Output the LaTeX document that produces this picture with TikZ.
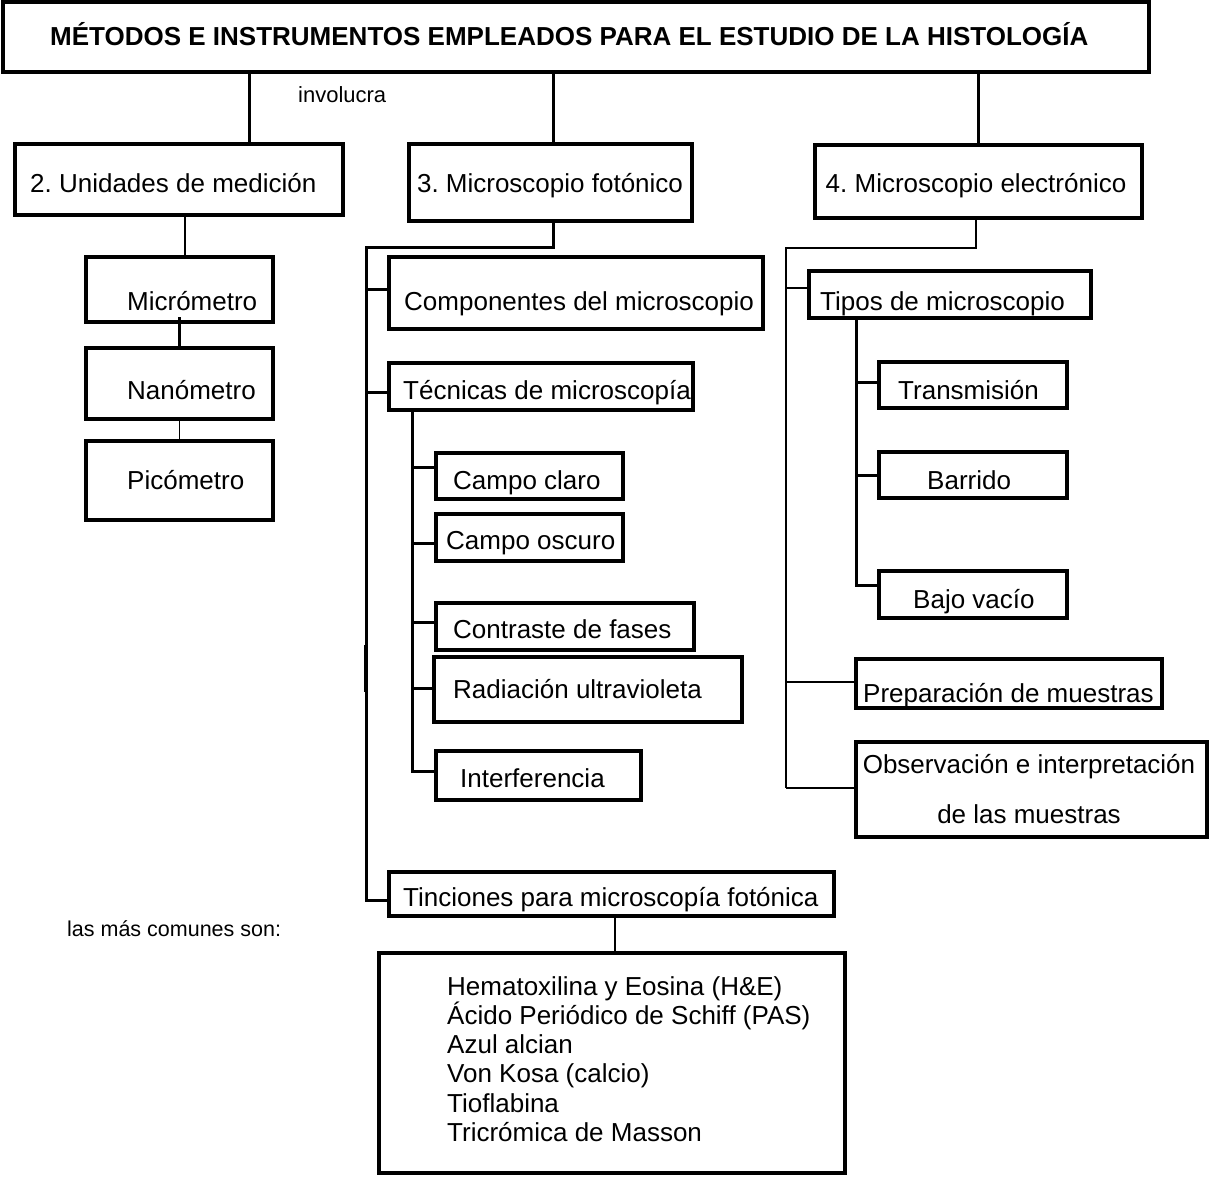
\documentclass[tikz,border=0pt]{standalone}
\usepackage{fontspec}
\setmainfont{Liberation Sans}
% box from its two corners (x1,y1) (x2,y2): [options]{x1}{y1}{x2}{y2}{name}
\newcommand{\mkbox}[6][]{%
  \node[box,#1,minimum width={#4-#2},minimum height={#5-#3}] (#6)
    at ({(#2+#4)/2},{(#3+#5)/2}) {};}
% horizontal twig from a trunk to the west side of a box: [style]{trunk}{box}{yshift}
\newcommand{\twig}[4][]{%
  \path ([yshift=#4pt]#3.west) coordinate (tw-#3);
  \draw[#1] (tw-#3 -| #2) -- (tw-#3);}
\begin{document}
\frenchspacing
\begin{tikzpicture}[x=1pt,y=-1pt,
  box/.style={draw,line width=3.5pt,inner sep=0pt,outer sep=0pt},
  txt/.style={anchor=base west,inner sep=0pt,font=\fontsize{26}{31}\selectfont},
  ctxt/.style={anchor=base,inner sep=0pt,font=\fontsize{26}{31}\selectfont},
  small/.style={anchor=base west,inner sep=0pt,font=\fontsize{21.5}{26}\selectfont},
  heavy/.style={line width=3pt},
  mid/.style={line width=2.7pt},
  fine/.style={line width=1.3pt},
  slim/.style={line width=1.8pt}]
\useasboundingbox[fill=white] (0,0) rectangle (1209,1176);

% ---- boxes ----
\mkbox[line width=4.5pt]{3}{2}{1149}{72}{title}
\mkbox{15}{144}{343}{215}{u2}
\mkbox{409}{144}{692}{221}{m3}
\mkbox{815}{145}{1142}{218}{m4}
\mkbox{86}{257}{273}{322}{micro}
\mkbox{86}{348}{273}{419}{nano}
\mkbox{86}{441}{273}{520}{pico}
\mkbox{389}{257}{763}{329}{comp}
\mkbox{389}{363}{693}{410}{tec}
\mkbox{436}{453}{623}{499}{cclaro}
\mkbox{436}{514}{623}{561}{coscuro}
\mkbox{436}{603}{694}{650}{cfases}
\mkbox{434}{657}{742}{722}{uv}
\mkbox{436}{751}{641}{800}{interf}
\mkbox{389}{872}{834}{916}{tinc}
\mkbox{379}{953}{845}{1173}{lista}
\mkbox{809}{271}{1091}{318}{tipos}
\mkbox{879}{362}{1067}{408}{trans}
\mkbox{879}{452}{1067}{498}{barr}
\mkbox{879}{571}{1067}{618}{bajo}
\mkbox{856}{659}{1162}{708}{prep}
\mkbox{856}{742}{1207}{837}{obs}

% ---- texts ----
\node[anchor=base west,inner sep=0pt,font=\fontsize{26}{31}\selectfont\bfseries] (t-title) at (50,45)
  {MÉTODOS E INSTRUMENTOS EMPLEADOS PARA EL ESTUDIO DE LA HISTOLOGÍA};
\node[small,font=\fontsize{22}{26}\selectfont] (t-inv) at (298,102) {involucra};
\node[txt] (t-u2) at (30,192) {2. Unidades de medición};
\node[ctxt] (t-m3) at (550,192) {3. Microscopio fotónico};
\node[ctxt] (t-m4) at (976,192) {4. Microscopio electrónico};
\node[txt] (t-micro) at (127,310) {Micrómetro};
\node[txt] (t-nano) at (127,399) {Nanómetro};
\node[txt] (t-pico) at (127,489) {Picómetro};
\node[txt] (t-comp) at (404,310) {Componentes del microscopio};
\node[txt] (t-tec) at (403,399) {Técnicas de microscopía};
\node[txt] (t-cclaro) at (453,489) {Campo claro};
\node[txt] (t-coscuro) at (446,549) {Campo oscuro};
\node[txt] (t-cfases) at (453,638) {Contraste de fases};
\node[txt] (t-uv) at (453,698) {Radiación ultravioleta};
\node[txt] (t-interf) at (460,787) {Interferencia};
\node[txt] (t-tinc) at (403,906) {Tinciones para microscopía fotónica};
\node[small] (t-comunes) at (67,936) {las más comunes son:};
\node[txt] (t-tipos) at (820,310) {Tipos de microscopio};
\node[txt] (t-trans) at (898,399) {Transmisión};
\node[txt] (t-barr) at (927,489) {Barrido};
\node[txt] (t-bajo) at (913,608) {Bajo vacío};
\node[txt] (t-prep) at (863,702) {Preparación de muestras};
\node[ctxt] (t-obs1) at (1029,773) {Observación e interpretación};
\node[ctxt] (t-obs2) at (1029,823) {de las muestras};
\foreach \i/\s in {0/Hematoxilina y Eosina (H\&E),
                   1/Ácido Periódico de Schiff (PAS),
                   2/Azul alcian,
                   3/Von Kosa (calcio),
                   4/Tioflabina,
                   5/Tricrómica de Masson}
  \node[txt] (t-lista-\i) at (447,{995+29.3*\i}) {\s};

% ---- connectors from the title ----
\path ([xshift=70pt]u2.north) coordinate (k2);
\path ([xshift=2.5pt]m3.north) coordinate (k3);
\path ([xshift=-0.5pt]m4.north) coordinate (k4);
\draw[heavy] (k2 |- title.south) -- (k2);
\draw[heavy] (k3 |- title.south) -- (k3);
\draw[heavy] (k4 |- title.south) -- (k4);

% ---- units of measurement ----
\path ([xshift=5.5pt]micro.north) coordinate (k5);
\draw[fine] (k5 |- u2.south) -- (k5);
\draw[heavy] ([yshift=5pt]micro.south) -- (nano.north);
\draw[fine] (nano.south) -- (pico.north);

% ---- light microscope ----
\coordinate (jL) at (366,247);
\path ([xshift=2.5pt]m3.south) coordinate (m3s);
\draw[heavy] (m3s) |- (jL) |- ([yshift=-6pt]tinc.west);
\draw[line width=4pt] (365.5,645) -- (365.5,692);
\twig[heavy]{jL}{comp}{4}
\twig[heavy]{jL}{tec}{-5.5}
\path ([xshift=23pt]tec.south west) coordinate (jT);
\draw[heavy] (jT) |- ([yshift=4.5pt]interf.west);
\twig[heavy]{jT}{cclaro}{9}
\twig[heavy]{jT}{coscuro}{-5.5}
\twig[heavy]{jT}{cfases}{4.5}
\twig[heavy]{jT}{uv}{1.5}
\path ([xshift=3.5pt]tinc.south) coordinate (ts);
\draw[fine] (ts) -- (ts |- lista.north);

% ---- electron microscope ----
\coordinate (jR) at (786,248);
\coordinate (jRend) at (786,788);
\path ([xshift=-2.5pt]m4.south) coordinate (m4s);
\draw[mid] (m4s) |- (jR) -- (jRend);
\twig[mid]{jR}{tipos}{6.5}
\twig[slim]{jR}{prep}{1.5}
\twig[slim]{jR}{obs}{1.5}
\path ([xshift=47pt]tipos.south west) coordinate (jP);
\draw[heavy] (jP) |- ([yshift=9.5pt]bajo.west);
\twig[heavy]{jP}{trans}{3}
\twig[heavy]{jP}{barr}{0}
\end{tikzpicture}
\end{document}
